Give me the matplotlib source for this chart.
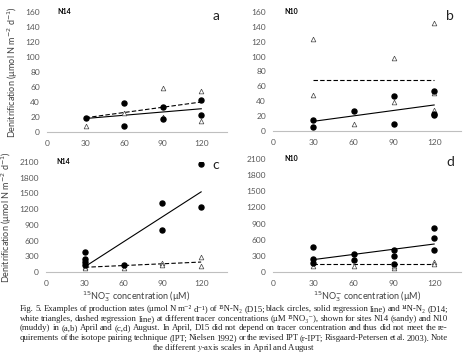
import matplotlib
matplotlib.use('Agg')
import matplotlib.pyplot as plt

plt.rcParams['font.family'] = ['Lato', 'DejaVu Sans']

W, H = 468, 358

# concentrations (uM) and rates
# panel a: April, N14
a_circ_x = [30, 60, 60, 90, 90, 120, 120]
a_circ_y = [19, 38, 8, 33, 17, 42, 22]
a_tri_x = [30, 60, 90, 90, 120, 120]
a_tri_y = [8, 25, 58, 20, 54, 14]
a_solid = [18, 31]
a_dash = [19, 40]

# panel b: April, N10
b_circ_x = [30, 30, 60, 90, 90, 120, 120, 120]
b_circ_y = [15, 5, 27, 47, 9, 54, 23, 22]
b_tri_x = [30, 30, 60, 90, 90, 120, 120, 120]
b_tri_y = [124, 48, 10, 98, 39, 145, 51, 28]
b_solid = [13, 35]
b_dash = [68, 68]

# panel c: August, N14
c_circ_x = [30, 30, 30, 30, 60, 90, 90, 120, 120]
c_circ_y = [390, 250, 190, 130, 140, 1310, 810, 2070, 1240]
c_tri_x = [30, 30, 60, 90, 90, 120, 120]
c_tri_y = [90, 70, 80, 180, 130, 280, 110]
c_solid = [100, 1530]
c_dash = [90, 190]

# panel d: August, N10
d_circ_x = [30, 30, 30, 60, 60, 90, 90, 90, 120, 120, 120]
d_circ_y = [460, 250, 160, 330, 220, 400, 290, 150, 820, 640, 410]
d_tri_x = [30, 60, 90, 90, 120, 120]
d_tri_y = [120, 110, 80, 120, 190, 140]
d_solid = [230, 520]
d_dash = [140, 140]

fit_x = [30, 120]
x_ticks = [0, 30, 60, 90, 120]
april_ticks = [0, 20, 40, 60, 80, 100, 120, 140, 160]
august_ticks = [0, 300, 600, 900, 1200, 1500, 1800, 2100]

fig = plt.figure(figsize=(W / 100, H / 100), dpi=100)


def make_ax(x0, x1, ytop, ybot):
    return fig.add_axes([x0 / W, 1 - ybot / H, (x1 - x0) / W, (ybot - ytop) / H])


panels = [
    (make_ax(47, 227, 12, 132), a_circ_x, a_circ_y, a_tri_x, a_tri_y, a_solid, a_dash,
     april_ticks, 'a', 'N14'),
    (make_ax(273, 461, 12, 131), b_circ_x, b_circ_y, b_tri_x, b_tri_y, b_solid, b_dash,
     april_ticks, 'b', 'N10'),
    (make_ax(46, 227, 162, 272), c_circ_x, c_circ_y, c_tri_x, c_tri_y, c_solid, c_dash,
     august_ticks, 'c', 'N14'),
    (make_ax(273, 461, 159, 272), d_circ_x, d_circ_y, d_tri_x, d_tri_y, d_solid, d_dash,
     august_ticks, 'd', 'N10'),
]

for ax, cx, cy, tx, ty, sol, dash, yt, lab, site in panels:
    ax.plot(fit_x, sol, color='black', lw=0.8, zorder=2)
    ax.plot(fit_x, dash, color='black', lw=0.8, ls=(0, (4, 2)), zorder=2)
    ax.plot(tx, ty, ls='none', marker='^', ms=3.4, mfc='white', mec='#404040', mew=0.5, zorder=3)
    ax.plot(cx, cy, ls='none', marker='o', ms=3.6, color='black', zorder=4)
    ax.set_xlim(0, 140)
    ax.set_ylim(yt[0], yt[-1])
    ax.set_xticks(x_ticks)
    ax.set_yticks(yt)
    for s in ['top', 'right', 'left']:
        ax.spines[s].set_visible(False)
    ax.spines['bottom'].set_color('#bfbfbf')
    ax.spines['bottom'].set_linewidth(0.8)
    ax.tick_params(length=0, labelsize=6, colors='#595959', pad=6)
    ax.tick_params(axis='y', pad=5)
    ax.patch.set_alpha(0)
    ax.text(0.92, 0.97, lab, transform=ax.transAxes, fontsize=10, va='center', ha='left',
            color='#222222')
    ax.text(0.06, 1.0, site, transform=ax.transAxes, fontsize=5, fontweight='bold',
            va='center', ha='left')

ylab = 'Denitrification (µmol N m$^{-2}$ d$^{-1}$)'
xlab = '$^{15}$NO$_3^{-}$ concentration (µM)'
for ax in [panels[0][0], panels[2][0]]:
    ax.set_ylabel(ylab, fontsize=6.5, color='#404040', labelpad=4)
for ax in [panels[2][0], panels[3][0]]:
    ax.set_xlabel(xlab, fontsize=6.5, color='#404040', labelpad=1)

# caption, justified line by line
cap_lines = [
    'Fig. 5. Examples of production rates (µmol N m⁻² d⁻¹) of ¹⁵N-N₂ (D15; black circles, solid regression line) and ¹⁴N-N₂ (D14;',
    'white triangles, dashed regression line) at different tracer concentrations (µM ¹⁵NO₃⁻), shown for sites N14 (sandy) and N10',
    '(muddy) in (a,b) April and (c,d) August. In April, D15 did not depend on tracer concentration and thus did not meet the re-',
    'quirements of the isotope pairing technique (IPT; Nielsen 1992) or the revised IPT (r-IPT; Risgaard-Petersen et al. 2003). Note',
]
cap_font = dict(family=['Liberation Serif', 'DejaVu Serif'], fontsize=6.3, color='#222222')
left, right = 20, 448
line_y = [309, 319, 328.5, 338]
renderer = fig.canvas.get_renderer()
for line, yy in zip(cap_lines, line_y):
    words = line.split(' ')
    items = []
    for w in words:
        t = fig.text(0, 1 - yy / H, w, va='center', ha='left', **cap_font)
        items.append((t, t.get_window_extent(renderer).width))
    total = sum(wd for _, wd in items)
    gap = (right - left - total) / (len(items) - 1)
    x = left
    for t, wd in items:
        t.set_x(x / W)
        x += wd + gap

fig.text(0.5, 1 - 348 / H, 'the different $y$-axis scales in April and August', ha='center',
         va='center', math_fontfamily='stix', **cap_font)

fig.savefig('out.png', dpi=100)
